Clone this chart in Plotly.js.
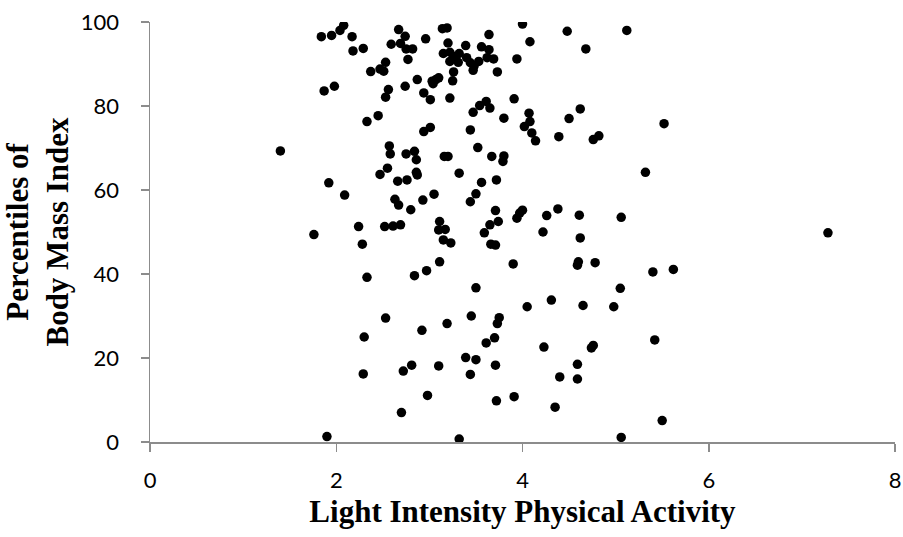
<!DOCTYPE html>
<html>
<head>
<meta charset="utf-8">
<script src="https://cdn.plot.ly/plotly-3.0.1.min.js"></script>
<style>html,body{margin:0;padding:0;background:#fff}#chart{width:903px;height:537px}</style>
</head>
<body>
<div id="chart"></div>
<script>
const activity = [
1.84,1.95,2.04,2.08,2.17,2.18,2.29,2.67,2.59,2.69,2.74,2.75,2.77,2.53,2.37,2.47,2.51,1.87,1.98,2.56,
2.53,2.74,2.33,2.45,1.40,2.57,2.58,2.75,2.47,2.55,1.92,2.09,2.66,2.76,2.63,2.67,2.80,2.24,2.52,2.61,
2.69,1.76,2.28,2.33,2.53,2.30,2.29,2.70,1.90,4.00,4.08,3.64,3.14,3.19,2.96,2.82,3.20,3.39,3.56,3.64,
3.15,3.22,3.26,3.32,3.22,3.31,3.40,3.44,3.48,3.53,3.47,3.62,3.69,3.94,3.73,3.26,3.25,3.07,3.10,3.03,
3.04,2.87,2.94,3.01,3.22,3.47,3.54,3.61,3.65,3.91,3.80,4.07,4.08,4.02,4.10,4.14,3.01,2.94,3.44,3.52,
3.67,3.80,3.79,2.84,2.86,3.16,3.20,3.32,2.86,2.87,3.56,3.72,3.50,3.44,3.05,2.93,3.71,4.00,3.97,3.94,
3.11,3.74,3.65,3.10,3.17,3.15,3.23,3.59,3.66,3.71,3.11,2.97,2.84,3.90,3.50,4.05,3.45,3.75,3.73,3.19,
2.92,3.70,3.61,3.39,3.50,3.71,3.44,3.10,2.81,2.72,2.98,3.72,3.91,3.32,4.48,5.12,4.68,4.62,4.50,5.52,
4.39,4.76,4.82,5.32,4.26,4.38,4.61,5.06,4.22,4.62,4.60,4.59,4.78,5.40,5.62,5.05,4.31,4.65,4.98,4.23,
4.74,4.76,5.42,4.59,4.40,4.59,4.35,5.50,5.06,7.28
];
const bmiPercentile = [
96.5,96.8,98.0,99.2,96.5,93.1,93.7,98.2,94.7,94.9,96.6,93.6,91.1,90.4,88.2,88.8,88.3,83.6,84.7,83.9,
82.1,84.7,76.3,77.7,69.3,70.5,68.6,68.6,63.7,65.2,61.7,58.8,62.1,62.4,57.8,56.4,55.3,51.3,51.3,51.4,
51.7,49.4,47.1,39.2,29.5,25.0,16.2,7.0,1.3,99.5,95.3,97.0,98.4,98.6,96.0,93.6,95.0,94.4,94.1,93.4,
92.5,92.8,91.8,92.5,90.6,90.4,91.5,90.3,89.5,90.6,88.5,91.5,91.2,91.2,88.1,88.1,86.0,86.3,86.7,85.9,
85.3,86.3,83.1,81.5,81.9,78.5,80.1,81.1,79.5,81.7,77.1,78.3,76.3,75.1,73.6,71.7,74.9,73.9,74.3,70.1,
68.0,68.1,66.8,69.2,67.2,68.0,68.0,64.0,64.2,63.6,61.8,62.4,59.1,57.2,59.0,57.6,55.1,55.2,54.5,53.3,
52.5,52.5,51.7,50.5,50.6,48.1,47.4,49.8,47.1,46.9,42.9,40.8,39.6,42.4,36.7,32.2,30.0,29.6,28.2,28.2,
26.6,24.8,23.6,20.1,19.6,18.3,16.1,18.1,18.3,16.9,11.1,9.8,10.8,0.7,97.8,98.0,93.6,79.3,77.0,75.8,
72.7,72.0,72.9,64.2,53.9,55.5,54.0,53.5,50.0,48.6,42.9,42.1,42.7,40.5,41.1,36.6,33.8,32.5,32.2,22.6,
22.4,23.0,24.3,18.5,15.5,15.0,8.3,5.1,1.1,49.8
];
const xTicks = [0, 2, 4, 6, 8];
const yTicks = [0, 20, 40, 60, 80, 100];
const xTitle = 'Light Intensity Physical Activity';
const yTitle = 'Percentiles of<br>Body Mass Index';

const axisColor = '#8c8c8c';
const tickFont = {family: 'Lato, "Open Sans", sans-serif', size: 22, color: '#000'};
const titleFont = {family: '"Liberation Serif", "DejaVu Serif", serif', size: 31, color: '#000', weight: 'bold'};

Plotly.newPlot('chart', [{
  type: 'scatter',
  mode: 'markers',
  x: activity,
  y: bmiPercentile,
  marker: {color: '#000', size: 9.5, line: {width: 0}},
  hoverinfo: 'x+y'
}], {
  width: 903, height: 537,
  margin: {l: 150, r: 8, t: 22, b: 95},
  paper_bgcolor: '#fff', plot_bgcolor: '#fff',
  showlegend: false,
  xaxis: {
    range: [0, 8], tickvals: xTicks, ticktext: xTicks.map(String),
    showgrid: false, zeroline: false, showline: true, linecolor: axisColor, linewidth: 1.5,
    ticks: 'outside', ticklen: 8, tickcolor: axisColor, tickwidth: 1.5,
    tickfont: tickFont, ticklabelstandoff: 10,
    title: {text: xTitle, font: titleFont, standoff: 8}
  },
  yaxis: {
    range: [0, 100], tickvals: yTicks, ticktext: yTicks.map(String),
    showgrid: false, zeroline: false, showline: true, linecolor: axisColor, linewidth: 1.5,
    ticks: 'outside', ticklen: 8, tickcolor: axisColor, tickwidth: 1.5,
    tickfont: tickFont, ticklabelstandoff: 17,
    title: {text: yTitle, font: titleFont, standoff: 16}
  }
}, {displayModeBar: false, staticPlot: true});
</script>
</body>
</html>
